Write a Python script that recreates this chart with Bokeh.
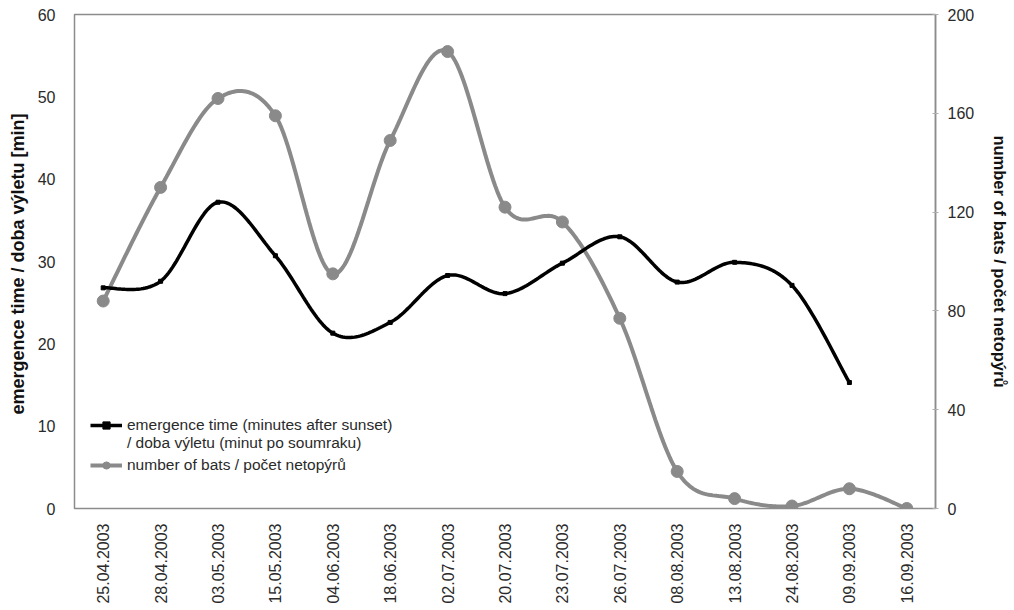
import numpy as np
from bokeh.plotting import figure
from bokeh.models import (Range1d, LinearAxis, FixedTicker, Legend, LegendItem,
                          FactorRange)
from bokeh.embed import file_html
from bokeh.resources import INLINE

dates = ["25.04.2003", "28.04.2003", "03.05.2003", "15.05.2003", "04.06.2003",
         "18.06.2003", "02.07.2003", "20.07.2003", "23.07.2003", "26.07.2003",
         "08.08.2003", "13.08.2003", "24.08.2003", "09.09.2003", "16.09.2003"]
emergence = [26.8, 27.6, 37.2, 30.7, 21.3, 22.6, 28.3, 26.1, 29.8, 33.0,
             27.5, 29.9, 27.1, 15.3]
bats = [84, 130, 166, 159, 95, 149, 185, 122, 116, 77, 15, 4, 1, 8, 0]

FONT = "Liberation Sans"
GRAY = "#8a8a8a"


def smooth(ys, n=30):
    xs = np.arange(len(ys)) + 0.5
    pts = np.column_stack([xs, ys]).astype(float)
    out = [pts[0]]
    for i in range(len(pts) - 1):
        p0 = pts[i - 1] if i > 0 else pts[i]
        p1 = pts[i]
        p2 = pts[i + 1]
        p3 = pts[i + 2] if i + 2 < len(pts) else pts[i + 1]
        c1 = p1 + (p2 - p0) / 6
        c2 = p2 - (p3 - p1) / 6
        t = np.linspace(0, 1, n)[1:, None]
        seg = (1 - t) ** 3 * p1 + 3 * (1 - t) ** 2 * t * c1 + 3 * (1 - t) * t ** 2 * c2 + t ** 3 * p2
        out.extend(seg)
    out = np.array(out)
    return out[:, 0], out[:, 1]


p = figure(width=1012, height=610, x_range=FactorRange(*dates, range_padding=0),
           y_range=Range1d(0, 60), output_backend="svg", toolbar_location=None,
           min_border_left=74, min_border_right=77, min_border_top=14, min_border_bottom=102)
p.extra_y_ranges = {"bats": Range1d(0, 200)}
p.xgrid.visible = False
p.ygrid.visible = False
p.outline_line_color = "#8c8c8c"
p.outline_line_width = 1.5
p.background_fill_color = "white"
p.border_fill_color = "white"

# left axis
ya = p.yaxis[0]
ya.ticker = FixedTicker(ticks=[0, 10, 20, 30, 40, 50, 60])
ya.axis_line_color = None
ya.major_tick_line_color = None
ya.minor_tick_line_color = None
ya.major_tick_out = 0
ya.major_tick_in = 0
ya.major_label_standoff = 19
ya.major_label_text_font = FONT
ya.major_label_text_font_size = "16px"
ya.major_label_text_color = "#2a2a2a"
ya.axis_label = "emergence time / doba výletu  [min]"
ya.axis_label_text_font = FONT
ya.axis_label_text_font_size = "18px"
ya.axis_label_text_font_style = "bold"
ya.axis_label_text_color = "#111111"
ya.axis_label_standoff = 7

# right axis
ra = LinearAxis(y_range_name="bats", ticker=FixedTicker(ticks=[0, 40, 80, 120, 160, 200]))
ra.axis_line_color = "#8c8c8c"
ra.axis_line_width = 1.5
ra.major_tick_line_color = "#b0b0b0"
ra.major_tick_in = 3
ra.major_tick_out = 3
ra.minor_tick_line_color = None
ra.major_label_standoff = 9
ra.major_label_text_font = FONT
ra.major_label_text_font_size = "16px"
ra.major_label_text_color = "#2a2a2a"
ra.axis_label = "number of bats / počet netopýrů"
ra.axis_label_text_font = FONT
ra.axis_label_text_font_size = "16.5px"
ra.axis_label_text_font_style = "bold"
ra.axis_label_text_color = "#111111"
ra.axis_label_standoff = 14
p.add_layout(ra, "right")

# bottom axis
xa = p.xaxis[0]
xa.axis_line_color = None
xa.major_tick_line_color = None
xa.minor_tick_line_color = None
xa.major_tick_out = 0
xa.major_label_orientation = np.pi / 2
xa.major_label_standoff = 15
xa.major_label_text_font = FONT
xa.major_label_text_font_size = "16px"
xa.major_label_text_color = "#2a2a2a"

# series
bx, by = smooth(emergence)
gx, gy = smooth(bats)

g_line = p.line(gx, gy, line_color=GRAY, line_width=4, y_range_name="bats")
g_pts = p.scatter(dates, bats, size=12, fill_color=GRAY, line_color=GRAY,
                  y_range_name="bats")
b_line = p.line(bx, by, line_color="black", line_width=3.5)
b_pts = p.scatter(dates[:len(emergence)], emergence, marker="square", size=4,
                  fill_color="black", line_color="black")

dummy = p.line([], [], line_alpha=0)

common = dict(orientation="vertical", spacing=0, padding=0, margin=0,
              glyph_width=32, glyph_height=18, label_height=18, label_standoff=5,
              border_line_color=None, background_fill_alpha=0,
              label_text_font=FONT, label_text_font_size="15.5px", label_text_color="#2a2a2a")
legA = Legend(items=[LegendItem(label="emergence time (minutes after sunset)", renderers=[b_line, b_pts]),
                     LegendItem(label="/ doba výletu (minut po soumraku)", renderers=[dummy])],
              location=(16, 56), **common)
legB = Legend(items=[LegendItem(label="number of bats / počet netopýrů", renderers=[g_line, g_pts])],
              location=(16, 34), **common)
p.add_layout(legA, "center")
p.add_layout(legB, "center")

open("out.html", "w").write(file_html(p, INLINE))
